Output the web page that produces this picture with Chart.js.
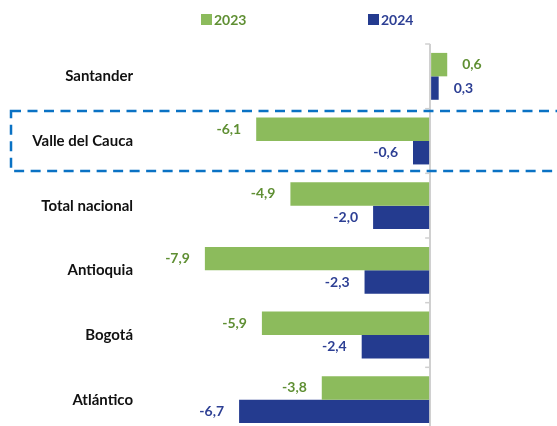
<!DOCTYPE html>
<html>
<head>
<meta charset="utf-8">
<script src="https://cdn.jsdelivr.net/npm/chart.js@4"></script>
<style>
    html, body { margin: 0; padding: 0; background: #fff; overflow: hidden; }
    #wrap { width: 557px; height: 453px; }
</style>
</head>
<body>
<div id="wrap"><canvas id="chart" width="557" height="453"></canvas></div>
<script>
const departments = ['Santander', 'Valle del Cauca', 'Total nacional', 'Antioquia', 'Bogotá', 'Atlántico'];
const values2023 = [0.6, -6.1, -4.9, -7.9, -5.9, -3.8];
const values2024 = [0.3, -0.6, -2.0, -2.3, -2.4, -6.7];
const seriesNames = ['2023', '2024'];
const highlighted = 'Valle del Cauca';

const green = '#8cbb5c';
const greenText = '#5f8f33';
const blue = '#243b8f';
const blueText = '#2d3f94';
const fontFamily = 'Lato, "Open Sans", sans-serif';

function formatValue(v) {
    return v.toFixed(1).replace('.', ',');
}

// value labels next to each bar end
const valueLabels = {
    id: 'valueLabels',
    afterDatasetsDraw(chart) {
        const ctx = chart.ctx;
        ctx.save();
        ctx.font = 'bold 14px ' + fontFamily;
        ctx.textBaseline = 'middle';
        chart.data.datasets.forEach((ds, i) => {
            const meta = chart.getDatasetMeta(i);
            ctx.fillStyle = ds.labelColor;
            meta.data.forEach((bar, j) => {
                const v = ds.data[j];
                if (v < 0) {
                    ctx.textAlign = 'right';
                    ctx.fillText(formatValue(v), bar.x - 15, bar.y);
                } else {
                    ctx.textAlign = 'left';
                    ctx.fillText(formatValue(v), bar.x + 15, bar.y);
                }
            });
        });
        ctx.restore();
    }
};

// small ticks on the zero axis, dashed highlight box and legend
const decorations = {
    id: 'decorations',
    afterDraw(chart) {
        const ctx = chart.ctx;
        const area = chart.chartArea;
        const xs = chart.scales.x;
        const ys = chart.scales.y;
        const zeroX = xs.getPixelForValue(0);
        const band = (area.bottom - area.top) / departments.length;

        ctx.save();
        ctx.strokeStyle = '#d0d0d0';
        ctx.lineWidth = 1.5;
        for (let i = 0; i <= departments.length; i++) {
            const y = area.top + i * band;
            ctx.beginPath();
            ctx.moveTo(zeroX - 5, y);
            ctx.lineTo(zeroX, y);
            ctx.stroke();
        }

        const yc = ys.getPixelForValue(departments.indexOf(highlighted));
        ctx.strokeStyle = '#0a72c4';
        ctx.lineWidth = 2.5;
        ctx.setLineDash([10, 6.5]);
        ctx.strokeRect(11, yc - band * 0.465, 620, band * 0.93);
        ctx.setLineDash([]);

        // legend
        ctx.font = 'bold 14px ' + fontFamily;
        ctx.textBaseline = 'middle';
        ctx.textAlign = 'left';
        const legendX = [201, 368];
        chart.data.datasets.forEach((ds, i) => {
            ctx.fillStyle = ds.backgroundColor;
            ctx.fillRect(legendX[i], 14, 11, 11);
            ctx.fillStyle = ds.labelColor;
            ctx.fillText(ds.label, legendX[i] + 13, 20);
        });
        ctx.restore();
    }
};

const ctx = document.getElementById('chart').getContext('2d');
new Chart(ctx, {
    type: 'bar',
    data: {
        labels: departments,
        datasets: [{
            label: seriesNames[0],
            data: values2023,
            backgroundColor: green,
            labelColor: greenText
        }, {
            label: seriesNames[1],
            data: values2024,
            backgroundColor: blue,
            labelColor: blueText
        }]
    },
    options: {
        indexAxis: 'y',
        responsive: false,
        animation: false,
        layout: { padding: { top: 44, bottom: 0, left: 0, right: 0 } },
        datasets: {
            bar: { categoryPercentage: 0.725, barPercentage: 1 }
        },
        scales: {
            x: {
                min: -10,
                max: 4.45,
                afterFit: scale => { scale.height = 0; },
                ticks: { display: false, stepSize: 1 },
                border: { display: false },
                grid: {
                    drawTicks: false,
                    lineWidth: 2,
                    color: c => (c.tick && c.tick.value === 0) ? '#d0d0d0' : 'rgba(0,0,0,0)'
                }
            },
            y: {
                afterFit: scale => { scale.width = 145; },
                border: { display: false },
                grid: { display: false, drawTicks: false },
                ticks: {
                    padding: 12,
                    color: '#111',
                    font: { family: fontFamily, size: 15, weight: 'bold' }
                }
            }
        },
        plugins: {
            legend: { display: false },
            tooltip: { enabled: false }
        }
    },
    plugins: [valueLabels, decorations]
});
</script>
</body>
</html>
